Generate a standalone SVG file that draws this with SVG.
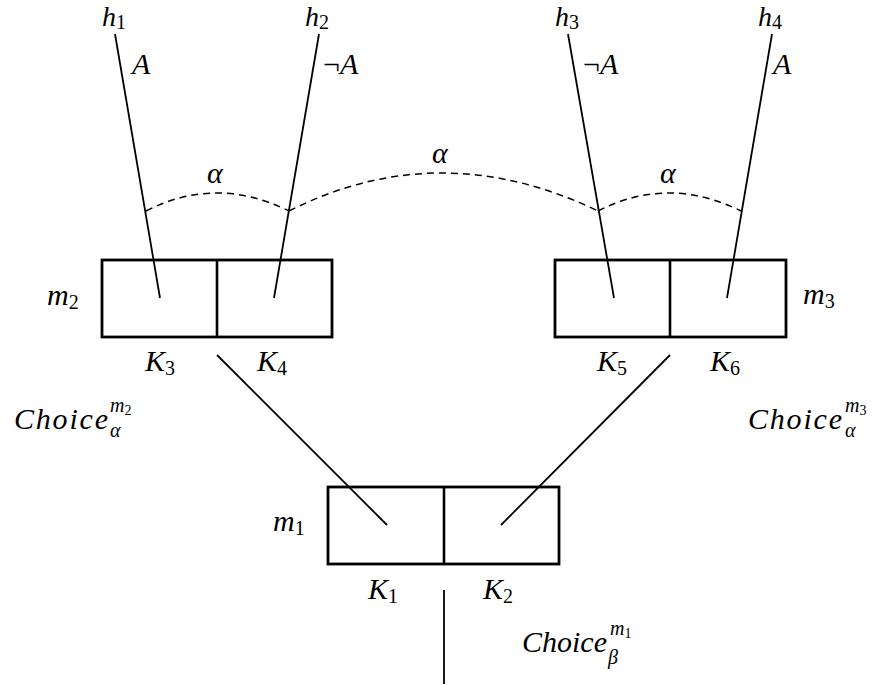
<svg xmlns="http://www.w3.org/2000/svg" width="875" height="685" viewBox="0 0 875 685">
<style>
.box{fill:#fff;stroke:#000;stroke-width:2.8}
.div{stroke:#000;stroke-width:2.6}
.ln{stroke:#000;stroke-width:1.8;fill:none}
.dash{stroke:#000;stroke-width:1.5;fill:none;stroke-dasharray:7 5}
text{font-family:"Liberation Serif","Times New Roman",serif;font-style:italic;font-size:30px;fill:#000}
.up{font-style:normal}
.h{font-size:28px}
.s{font-size:20px}
.ss{font-size:14px}
</style>
<g id="node-m2">
<rect class="box" x="102" y="260" width="230" height="77"/>
<line class="div" x1="217" y1="260" x2="217" y2="337"/>
<text x="47" y="305">m<tspan class="s up" dy="4">2</tspan></text>
<text x="145" y="371">K<tspan class="s up" dy="4">3</tspan></text>
<text x="257" y="371">K<tspan class="s up" dy="4">4</tspan></text>
</g>
<g id="node-m3">
<rect class="box" x="555" y="260" width="231" height="77"/>
<line class="div" x1="670" y1="260" x2="670" y2="337"/>
<text x="803" y="304">m<tspan class="s up" dy="4">3</tspan></text>
<text x="597" y="371">K<tspan class="s up" dy="4">5</tspan></text>
<text x="710" y="371">K<tspan class="s up" dy="4">6</tspan></text>
</g>
<g id="node-m1">
<rect class="box" x="328" y="487" width="231" height="77"/>
<line class="div" x1="444" y1="487" x2="444" y2="564"/>
<text x="273" y="531">m<tspan class="s up" dy="4">1</tspan></text>
<text x="368" y="599">K<tspan class="s up" dy="4">1</tspan></text>
<text x="483" y="599">K<tspan class="s up" dy="4">2</tspan></text>
</g>
<g id="connectors">
<line class="ln" x1="115" y1="34" x2="160" y2="298"/>
<line class="ln" x1="319" y1="34" x2="274" y2="298"/>
<line class="ln" x1="568" y1="34" x2="614" y2="298"/>
<line class="ln" x1="772" y1="34" x2="727" y2="298"/>
<line class="ln" x1="217" y1="355" x2="387" y2="525"/>
<line class="ln" x1="670" y1="355" x2="501" y2="525"/>
<line class="ln" x1="444" y1="590" x2="444" y2="684"/>
<path class="dash" d="M146,211 Q216,175 289,211"/>
<path class="dash" d="M289,211 Q440,135 598,211"/>
<path class="dash" d="M598,211 Q668,175 741,211"/>
</g>
<g id="labels">
<text class="h" x="102" y="26">h<tspan class="s up" dy="3">1</tspan></text>
<text class="h" x="305" y="26">h<tspan class="s up" dy="3">2</tspan></text>
<text class="h" x="555" y="26">h<tspan class="s up" dy="3">3</tspan></text>
<text class="h" x="758" y="26">h<tspan class="s up" dy="3">4</tspan></text>
<text x="132" y="74">A</text>
<text x="323" y="74"><tspan class="up">¬</tspan>A</text>
<text x="583" y="74"><tspan class="up">¬</tspan>A</text>
<text x="773" y="74">A</text>
<text x="207" y="183">α</text>
<text x="432" y="163">α</text>
<text x="660" y="183">α</text>
<text x="14" y="429" textLength="94" lengthAdjust="spacing">Choice</text>
<text x="110" y="412" class="s">m<tspan class="ss up" dy="3">2</tspan></text>
<text x="110" y="437" class="s">α</text>
<text x="748" y="429" textLength="94" lengthAdjust="spacing">Choice</text>
<text x="845" y="412" class="s">m<tspan class="ss up" dy="3">3</tspan></text>
<text x="845" y="437" class="s">α</text>
<text x="522" y="652" textLength="85" lengthAdjust="spacing">Choice</text>
<text x="610" y="635" class="s">m<tspan class="ss up" dy="3">1</tspan></text>
<text x="608" y="664" class="s">β</text>
</g>
</svg>
